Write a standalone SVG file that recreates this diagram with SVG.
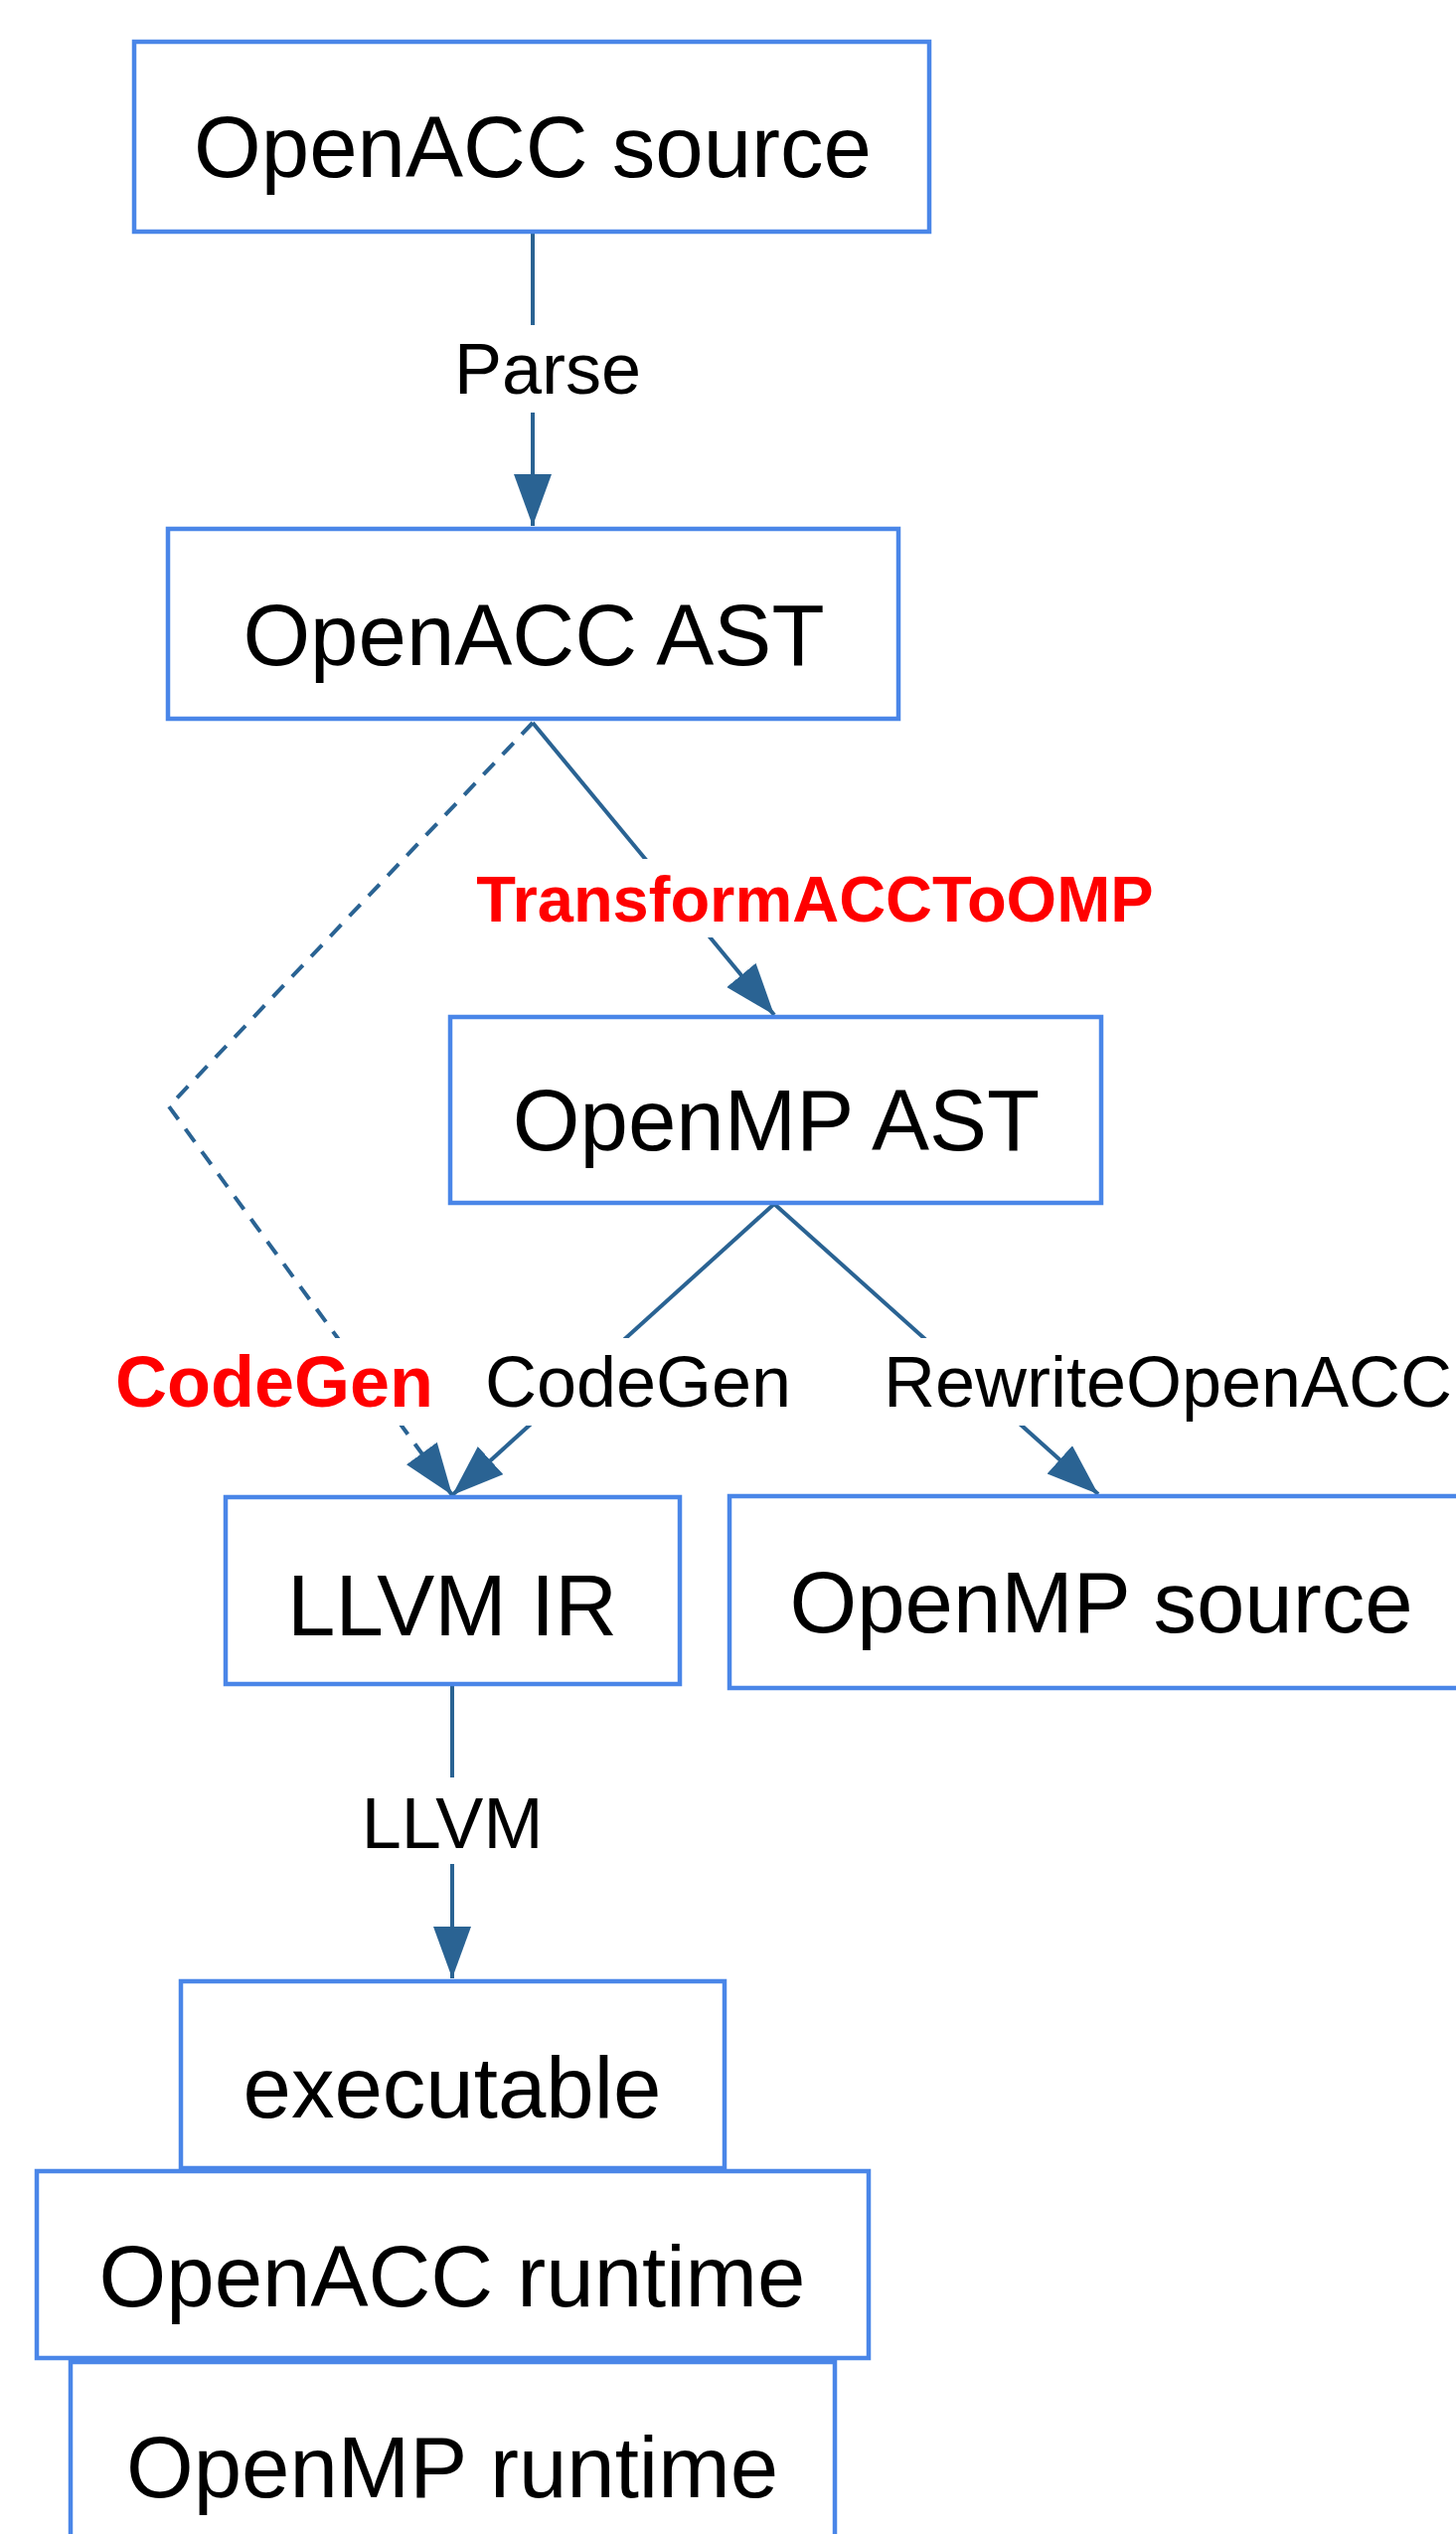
<svg xmlns="http://www.w3.org/2000/svg" width="1465" height="2549" viewBox="0 0 1465 2549">
<style>
.node rect{fill:#ffffff;stroke:#4a86e8;stroke-width:4.5}
.node text{font-family:"Liberation Sans",Arial,sans-serif;font-size:87px;fill:#000000;text-anchor:middle}
.edge{fill:none;stroke:#2a6393;stroke-width:4}
.dash{stroke-dasharray:16 12}
.lbg{fill:#ffffff;stroke:none}
.lbl{font-family:"Liberation Sans",Arial,sans-serif;font-size:72px;fill:#000000;text-anchor:middle}
.red{font-weight:bold;fill:#ff0000}
</style>
<defs>
<marker id="arr" markerUnits="userSpaceOnUse" markerWidth="54" markerHeight="40" refX="52" refY="19" orient="auto">
<path d="M0,0 L52,19 L0,38 z" fill="#2a6393"/>
</marker>
</defs>
<rect width="1465" height="2549" fill="#ffffff"/>
<g id="connectors">
<path class="edge" d="M536,235 L536,529" marker-end="url(#arr)"/>
<path class="edge" d="M536,727 L779,1021" marker-end="url(#arr)"/>
<path class="edge dash" d="M536,727 L170,1113 L455,1504" marker-end="url(#arr)"/>
<path class="edge" d="M779,1211 L455,1504" marker-end="url(#arr)"/>
<path class="edge" d="M779,1211 L1105,1503" marker-end="url(#arr)"/>
<path class="edge" d="M455,1696 L455,1990" marker-end="url(#arr)"/>
<rect class="lbg" x="456" y="327" width="190" height="88"/>
<text class="lbl" x="551" y="396">Parse</text>
<rect class="lbg" x="472" y="864" width="696" height="79"/>
<text class="lbl red" x="820" y="927" style="font-size:65px">TransformACCToOMP</text>
<rect class="lbg" x="115" y="1346" width="324" height="88"/>
<text class="lbl red" x="276" y="1415">CodeGen</text>
<rect class="lbg" x="484" y="1346" width="316" height="88"/>
<text class="lbl" x="642" y="1415">CodeGen</text>
<rect class="lbg" x="884" y="1346" width="581" height="88"/>
<text class="lbl" x="1175" y="1415">RewriteOpenACC</text>
<rect class="lbg" x="364" y="1788" width="182" height="87"/>
<text class="lbl" x="455" y="1859">LLVM</text>
</g>
<g id="openacc-source" class="node">
<rect x="135" y="42" width="800" height="191"/>
<text x="536" y="178">OpenACC source</text>
</g>
<g id="openacc-ast" class="node">
<rect x="169" y="532" width="735" height="191"/>
<text x="537" y="669">OpenACC AST</text>
</g>
<g id="openmp-ast" class="node">
<rect x="453" y="1023" width="655" height="187"/>
<text x="781" y="1157">OpenMP AST</text>
</g>
<g id="llvm-ir" class="node">
<rect x="227" y="1506" width="457" height="188"/>
<text x="455" y="1645">LLVM IR</text>
</g>
<g id="openmp-source" class="node">
<rect x="734" y="1505" width="748" height="193"/>
<text x="1108" y="1642">OpenMP source</text>
</g>
<g id="executable" class="node">
<rect x="182" y="1993" width="547" height="188"/>
<text x="455" y="2130">executable</text>
</g>
<g id="openacc-runtime" class="node">
<rect x="37" y="2184" width="837" height="188"/>
<text x="455" y="2320">OpenACC runtime</text>
</g>
<g id="openmp-runtime" class="node">
<rect x="71" y="2376" width="769" height="200"/>
<text x="455" y="2512">OpenMP runtime</text>
</g>
</svg>
